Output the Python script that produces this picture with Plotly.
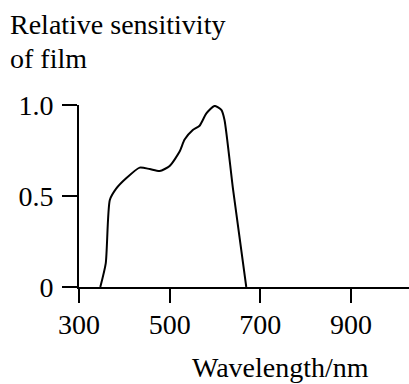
import plotly.graph_objects as go

wavelength = [347, 359, 368, 382, 404, 434, 456, 478, 500, 522, 533, 551, 566, 581, 599, 614, 621, 640, 669]
sensitivity = [0.0, 0.13, 0.478, 0.54, 0.597, 0.656, 0.648, 0.637, 0.665, 0.744, 0.81, 0.862, 0.886, 0.954, 0.995, 0.973, 0.918, 0.533, 0.0]

x_ticks = [300, 500, 700, 900]
y_ticks = [0, 0.5, 1.0]
y_tick_text = ["0", "0.5", "1.0"]

FONT = "Liberation Serif, Times New Roman, serif"

fig = go.Figure()
fig.add_trace(go.Scatter(x=wavelength, y=sensitivity, mode="lines",
                         line=dict(color="black", width=2, shape="spline", smoothing=0.6),
                         hoverinfo="skip", showlegend=False))

fig.update_layout(
    width=409, height=384,
    margin=dict(l=79, r=0, t=105, b=97),
    paper_bgcolor="white", plot_bgcolor="white",
    font=dict(family=FONT, size=28, color="black"),
    showlegend=False,
    xaxis=dict(range=[300, 1028], tickvals=x_ticks, ticktext=[str(v) for v in x_ticks],
               showgrid=False, zeroline=False, showline=True, linecolor="black", linewidth=2,
               ticks="outside", ticklen=14, tickwidth=2, tickcolor="black", ticklabelstandoff=-3,
               tickfont=dict(family=FONT, size=28, color="black")),
    yaxis=dict(range=[0, 1.0], tickvals=y_ticks, ticktext=y_tick_text,
               showgrid=False, zeroline=False, showline=True, linecolor="black", linewidth=2,
               ticks="outside", ticklen=15, tickwidth=2, tickcolor="black", ticklabelstandoff=3,
               tickfont=dict(family=FONT, size=28, color="black")),
    annotations=[
        dict(text="Relative sensitivity", xref="paper", yref="paper", x=-0.215, y=1.44,
             xanchor="left", yanchor="middle", showarrow=False,
             font=dict(family=FONT, size=28, color="black")),
        dict(text="of film", xref="paper", yref="paper", x=-0.215, y=1.258,
             xanchor="left", yanchor="middle", showarrow=False,
             font=dict(family=FONT, size=28, color="black")),
        dict(text="Wavelength/nm", xref="paper", yref="paper", x=0.336, y=-0.445,
             xanchor="left", yanchor="middle", showarrow=False,
             font=dict(family=FONT, size=28, color="black")),
    ],
)

fig.write_html("out.html")
